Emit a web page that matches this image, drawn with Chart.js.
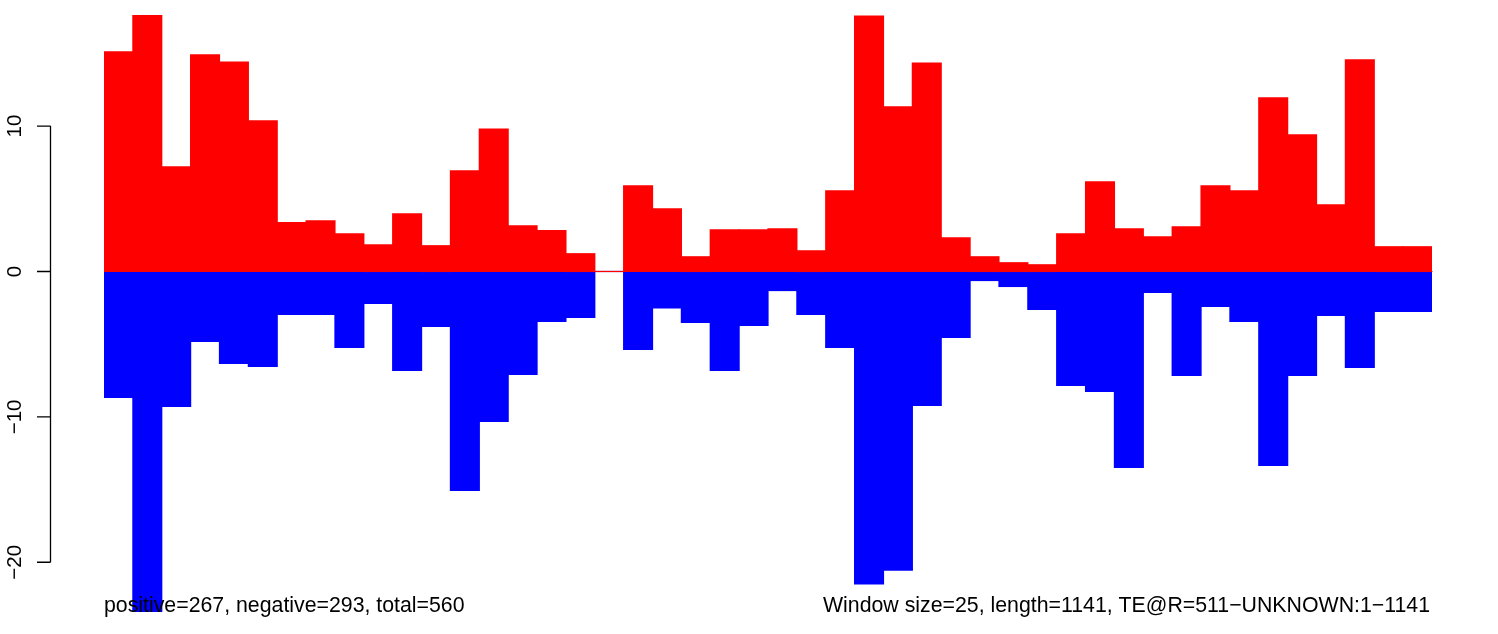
<!DOCTYPE html>
<html>
<head>
<meta charset="utf-8">
<script src="https://cdn.jsdelivr.net/npm/chart.js@4.4.1/dist/chart.umd.min.js"></script>
<style>
  html, body { margin: 0; padding: 0; background: #fff; }
  canvas { display: block; }
</style>
</head>
<body>
<canvas id="teChart" width="1498" height="634"></canvas>
<script>
// windows of 25 along the 1141 long sequence
const windows = [1, 2, 3, 4, 5, 6, 7, 8, 9, 10, 11, 12, 13, 14, 15, 16, 17, 18, 19, 20, 21, 22, 23,
                 24, 25, 26, 27, 28, 29, 30, 31, 32, 33, 34, 35, 36, 37, 38, 39, 40, 41, 42, 43, 44, 45, 46];

const positive = [15.1, 17.64, 7.2, 14.9, 14.4, 10.36, 3.37, 3.48, 2.59, 1.83, 3.96, 1.77, 6.92, 9.8, 3.14, 2.82, 1.22, 0,
                  5.89, 4.31, 1.01, 2.87, 2.87, 2.94, 1.42, 5.55, 17.57, 11.32, 14.34, 2.32, 1.01, 0.6, 0.46, 2.59,
                  6.16, 2.94, 2.38, 3.07, 5.89, 5.55, 11.94, 9.4, 4.58, 14.55, 1.7, 1.7];

const negative = [-8.66, -23.4, -9.28, -4.81, -6.32, -6.53, -2.96, -2.96, -5.22, -2.2, -6.8, -3.78, -15.05, -10.31, -7.08, -3.44, -3.16, 0,
                  -5.36, -2.5, -3.5, -6.8, -3.71, -1.31, -2.96, -5.22, -21.49, -20.55, -9.21, -4.54, -0.62, -1.03, -2.61, -7.84,
                  -8.25, -13.47, -1.44, -7.15, -2.41, -3.44, -13.33, -7.15, -3.02, -6.6, -2.75, -2.75];

const yTicks = [10, 0, -10, -20];
const leftNote = 'positive=267, negative=293, total=560';
const rightNote = 'Window size=25, length=1141, TE@R=511\u2212UNKNOWN:1\u22121141';

const FONT = '"Liberation Sans", Arial, Helvetica, sans-serif';

// grey line at zero, under the bars
const zeroLine = {
    id: 'zeroLine',
    beforeDatasetsDraw(chart) {
        const { ctx, chartArea, scales } = chart;
        const y = Math.round(scales.y.getPixelForValue(0)) + 0.5;
        ctx.save();
        ctx.strokeStyle = '#a8a8a8';
        ctx.lineWidth = 1;
        ctx.beginPath();
        ctx.moveTo(chartArea.left, y);
        ctx.lineTo(chartArea.right + 1, y);
        ctx.stroke();
        ctx.restore();
    }
};

// R style left axis and the two notes at the bottom
const rAxis = {
    id: 'rAxis',
    afterDraw(chart) {
        const { ctx, chartArea, scales } = chart;
        const yScale = scales.y;
        const axisX = 50.5;
        ctx.save();
        ctx.strokeStyle = '#000';
        ctx.lineWidth = 1.3;
        ctx.beginPath();
        ctx.moveTo(axisX, yScale.getPixelForValue(yTicks[0]));
        ctx.lineTo(axisX, yScale.getPixelForValue(yTicks[yTicks.length - 1]));
        yTicks.forEach(t => {
            const y = yScale.getPixelForValue(t);
            ctx.moveTo(axisX, y);
            ctx.lineTo(37, y);
        });
        ctx.stroke();

        ctx.fillStyle = '#000';
        ctx.font = '20.5px ' + FONT;
        ctx.textAlign = 'center';
        ctx.textBaseline = 'alphabetic';
        yTicks.forEach(t => {
            const y = yScale.getPixelForValue(t);
            ctx.save();
            ctx.translate(20.5, y);
            ctx.rotate(-Math.PI / 2);
            ctx.fillText(String(t).replace('-', '\u2212'), 0, 0);
            ctx.restore();
        });

        ctx.font = '21.3px ' + FONT;
        ctx.textAlign = 'left';
        ctx.fillText(leftNote, chartArea.left, 612);
        ctx.textAlign = 'right';
        ctx.fillText(rightNote, chartArea.right - 2, 612);
        ctx.restore();
    }
};

const ctx = document.getElementById('teChart').getContext('2d');
new Chart(ctx, {
    type: 'bar',
    data: {
        labels: windows,
        datasets: [{
            label: 'positive',
            data: positive,
            backgroundColor: '#ff0000',
            borderWidth: 0,
            inflateAmount: 0.6,
            barPercentage: 1,
            categoryPercentage: 1
        }, {
            label: 'negative',
            data: negative,
            backgroundColor: '#0000ff',
            borderWidth: 0,
            inflateAmount: 0.6,
            barPercentage: 1,
            categoryPercentage: 1
        }]
    },
    options: {
        responsive: false,
        animation: false,
        layout: { padding: { left: 104, right: 66, top: 15, bottom: 22 } },
        plugins: {
            legend: { display: false },
            tooltip: { enabled: false }
        },
        scales: {
            x: { stacked: true, display: false },
            y: { stacked: true, display: false, min: -23.42, max: 17.64 }
        }
    },
    plugins: [zeroLine, rAxis]
});
</script>
</body>
</html>
